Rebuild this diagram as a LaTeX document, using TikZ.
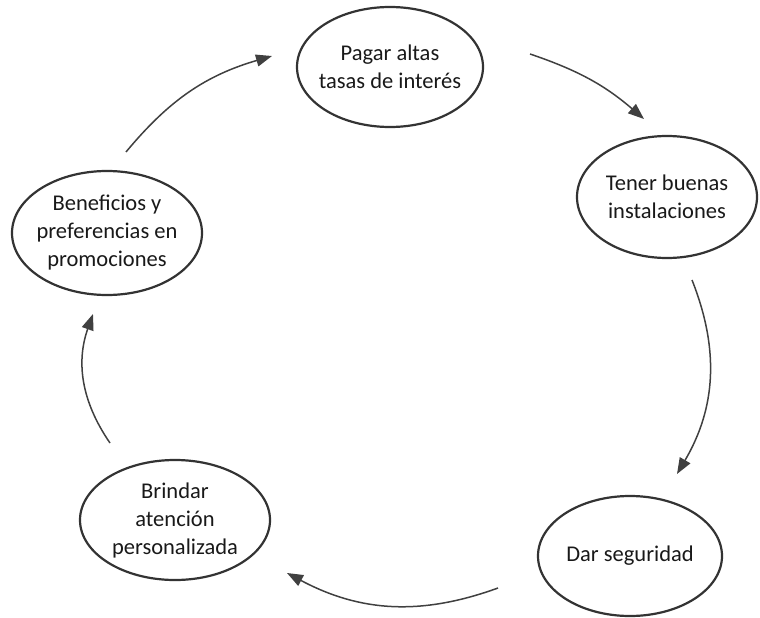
\documentclass[tikz,border=0pt]{standalone}
\usepackage{fontspec}
\setmainfont{Carlito}
\usepackage{tikz}
\usetikzlibrary{shapes.geometric,arrows.meta}
\tikzset{node distance=2.0cm, auto}

\begin{document}
\begin{tikzpicture}[
  x=1pt, y=-1pt,
  ciclo/.style={ellipse, draw=black!80, line width=2.2pt, inner xsep=-30pt,
    inner ysep=0pt, align=center, text=black!90,
    font=\fontsize{22.5}{28}\selectfont},
  flecha/.style={-{Triangle[length=16pt,width=12pt]}, line width=1.5pt,
    draw=black!75}
]
\useasboundingbox (0,0) rectangle (760,618);

\node[ciclo, minimum width=186pt, minimum height=120pt] (pagar) at (390,67) {Pagar altas\\tasas de interés};
\node[ciclo, minimum width=180pt, minimum height=122pt] (tener) at (667,197) {Tener buenas\\instalaciones};
\node[ciclo, minimum width=184pt, minimum height=120pt] (dar) at (630,556) {Dar seguridad};
\node[ciclo, minimum width=190pt, minimum height=120pt] (brindar) at (175,520) {Brindar\\atención\\personalizada};
\node[ciclo, minimum width=190pt, minimum height=124pt] (benef) at (107,233) {Beneficios y\\preferencias en\\promociones};

\coordinate (s1) at (126,152);  \coordinate (e1) at (272,56);
\coordinate (s2) at (530,54);   \coordinate (e2) at (644,119);
\coordinate (s3) at (692,280);  \coordinate (e3) at (677,474);
\coordinate (s4) at (498,588);  \coordinate (e4) at (287,573);
\coordinate (s5) at (110,443);  \coordinate (e5) at (93,314);

\draw[flecha] (s1) to[bend left=17] (e1);
\draw[flecha] (s2) to[bend left=11] (e2);
\draw[flecha] (s3) to[bend left=26] (e3);
\draw[flecha] (s4) to[bend left=24] (e4);
\draw[flecha] (s5) to[bend left=27] (e5);
\end{tikzpicture}
\end{document}
